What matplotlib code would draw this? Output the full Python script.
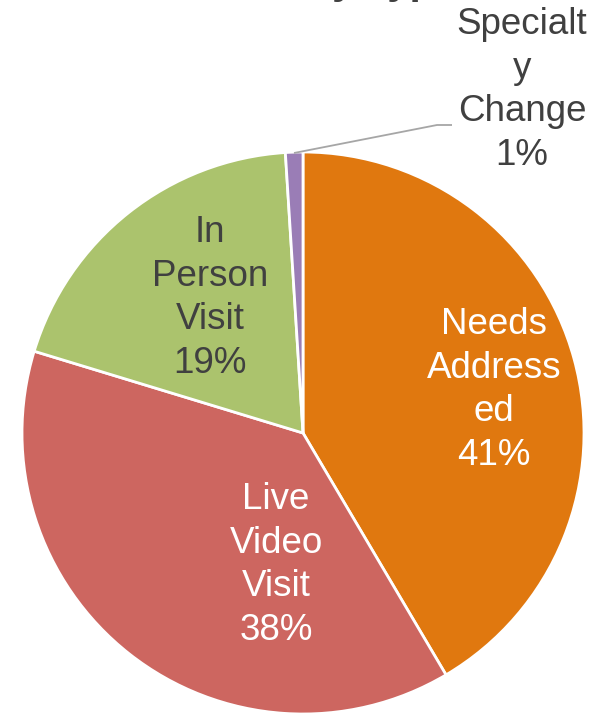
import matplotlib.pyplot as plt

plt.rcParams['font.family'] = ['Liberation Sans', 'DejaVu Sans']

labels = ["Needs\nAddress\ned", "Live\nVideo\nVisit", "In\nPerson\nVisit", "Specialt\ny\nChange"]
values = [41.5, 38.2, 19.3, 1.0]
shown_pct = ["41%", "38%", "19%", "1%"]
colors = ["#E0780F", "#CD6660", "#ABC36D", "#9A7DB6"]
text_colors = ["white", "white", "#404040", "#404040"]

W, H = 608, 713
fig = plt.figure(figsize=(W / 100, H / 100), dpi=100)
ax = fig.add_axes([0, 0, 1, 1])

cx, cy, r = 303, H - 433, 281
ax.pie(values, colors=colors, startangle=90, counterclock=False,
       center=(cx, cy), radius=r, frame=True,
       wedgeprops=dict(edgecolor="white", linewidth=2))
ax.set_xlim(0, W)
ax.set_ylim(0, H)
ax.set_aspect("equal")
ax.axis("off")

# label anchor points (pixel coords from top-left)
label_pos = [(494, 390), (276, 565), (210, 298), (522, 90)]
for lab, pct, col, (x, y) in zip(labels, shown_pct, text_colors, label_pos):
    ax.text(x, H - y, lab + "\n" + pct, ha="center", va="center",
            fontsize=26.5, color=col, linespacing=1.33)

# leader line for the small slice
ax.plot([294, 437, 452], [H - 153, H - 125, H - 125], color="#A6A6A6", lw=1.3,
        solid_capstyle="butt")

# title mostly cut off at the top edge
ax.text(190, H + 5.5, "Visits by Type", ha="left", va="baseline",
        fontsize=29, fontweight="bold", color="#404040", clip_on=False)

fig.savefig("out.png", dpi=100)
